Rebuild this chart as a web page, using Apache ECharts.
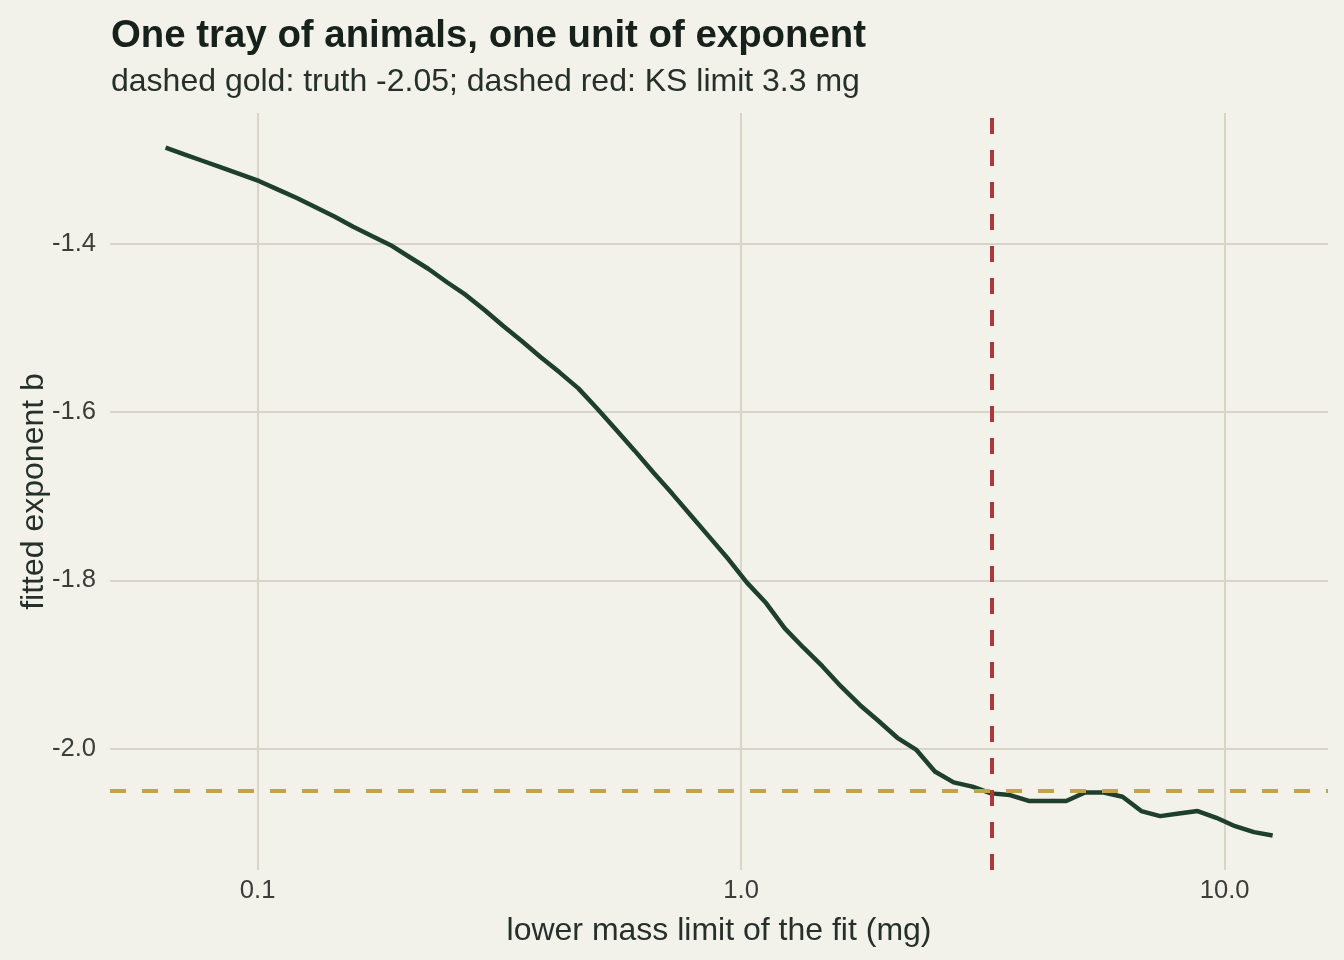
<!DOCTYPE html>
<html>
<head>
    <meta charset="utf-8">
    <title>One tray of animals</title>
    <script src="https://cdn.jsdelivr.net/npm/echarts@6/dist/echarts.min.js"></script>
    <style>
        html, body { margin: 0; padding: 0; background: #f2f1ea; }
        #main { width: 1344px; height: 960px; }
    </style>
</head>
<body>
    <div id="main"></div>
    <script>
        // lower mass limit of the fit (mg), log-spaced
        var massLimits = [0.0645, 0.0705, 0.0771, 0.0843, 0.0922, 0.1008, 0.1102, 0.1205, 0.1318, 0.1441,
            0.1576, 0.1723, 0.1884, 0.2060, 0.2253, 0.2464, 0.2694, 0.2946, 0.3221, 0.3522,
            0.3851, 0.4211, 0.4606, 0.5036, 0.5507, 0.6022, 0.6584, 0.7199, 0.7872, 0.8610,
            0.9415, 1.029, 1.126, 1.231, 1.346, 1.472, 1.609, 1.760, 1.924, 2.104,
            2.300, 2.516, 2.751, 3.008, 3.289, 3.598, 3.934, 4.301, 4.703, 5.143,
            5.623, 6.149, 6.724, 7.355, 8.043, 8.794, 9.614, 10.51, 11.50, 12.57];
        // fitted exponent b at each lower limit
        var fittedB = [-1.286, -1.294, -1.302, -1.310, -1.318, -1.326, -1.336, -1.346, -1.357, -1.368,
            -1.380, -1.391, -1.402, -1.416, -1.430, -1.446, -1.461, -1.479, -1.498, -1.516,
            -1.535, -1.553, -1.572, -1.596, -1.621, -1.646, -1.672, -1.697, -1.723, -1.749,
            -1.775, -1.803, -1.827, -1.857, -1.880, -1.902, -1.926, -1.948, -1.967, -1.987,
            -2.001, -2.027, -2.040, -2.045, -2.053, -2.055, -2.062, -2.062, -2.062, -2.052,
            -2.052, -2.057, -2.074, -2.080, -2.077, -2.074, -2.082, -2.092, -2.099, -2.103];
        var truthB = -2.05;
        var ksLimit = 3.3;

        var points = massLimits.map(function (m, i) { return [m, fittedB[i]]; });

        var font = "'Liberation Sans', Arial, Helvetica, sans-serif";
        var myChart = echarts.init(document.getElementById('main'));
        myChart.setOption({
            backgroundColor: '#f2f1ea',
            animation: false,
            title: [{
                text: 'One tray of animals, one unit of exponent',
                left: 111,
                top: 17,
                padding: 0,
                textStyle: { fontFamily: font, fontSize: 38.4, fontWeight: 'bold', color: '#17211b' }
            }, {
                text: 'dashed gold: truth -2.05; dashed red: KS limit 3.3 mg',
                left: 111,
                top: 66,
                padding: 0,
                textStyle: { fontFamily: font, fontSize: 32, fontWeight: 'normal', color: '#26302a' }
            }],
            grid: { left: 110, right: 16, top: 113, bottom: 90 },
            xAxis: {
                type: 'log',
                logBase: 10,
                min: 0.0495,
                max: 16.36,
                name: 'lower mass limit of the fit (mg)',
                nameLocation: 'middle',
                nameGap: 45,
                nameMoveOverlap: false,
                nameTextStyle: { fontFamily: font, fontSize: 32, color: '#26302a' },
                axisLine: { show: false },
                axisTick: { show: false },
                axisLabel: {
                    fontFamily: font, fontSize: 25.6, color: '#3a3d38', margin: 8,
                    showMinLabel: false, showMaxLabel: false,
                    formatter: function (v) { return v.toFixed(1); }
                },
                splitLine: { show: true, showMinLine: false, showMaxLine: false, lineStyle: { color: '#d6d5c7', width: 2 } },
                minorSplitLine: { show: false }
            },
            yAxis: {
                type: 'value',
                min: -2.144,
                max: -1.245,
                name: 'fitted exponent b',
                nameLocation: 'middle',
                nameGap: 60,
                nameMoveOverlap: false,
                nameTextStyle: { fontFamily: font, fontSize: 32, color: '#26302a' },
                axisLine: { show: false },
                axisTick: { show: false },
                axisLabel: {
                    fontFamily: font, fontSize: 25.6, color: '#3a3d38', margin: 14,
                    showMinLabel: false, showMaxLabel: false,
                    formatter: function (v) { return v.toFixed(1); }
                },
                splitLine: { show: true, showMinLine: false, showMaxLine: false, lineStyle: { color: '#d6d5c7', width: 2 } }
            },
            series: [{
                name: 'reference',
                type: 'line',
                data: [],
                z: 1,
                silent: true,
                markLine: {
                    silent: true,
                    symbol: ['none', 'none'],
                    label: { show: false },
                    data: [
                        { yAxis: truthB, lineStyle: { color: '#c1a545', width: 4, type: [16, 16] } },
                        { xAxis: ksLimit, lineStyle: { color: '#a9393c', width: 4, type: [16, 16] } }
                    ]
                }
            }, {
                name: 'fitted b',
                type: 'line',
                data: points,
                z: 3,
                showSymbol: false,
                smooth: false,
                lineStyle: { color: '#1f3f2d', width: 4.5 },
                itemStyle: { color: '#1f3f2d' }
            }]
        });
    </script>
</body>
</html>
